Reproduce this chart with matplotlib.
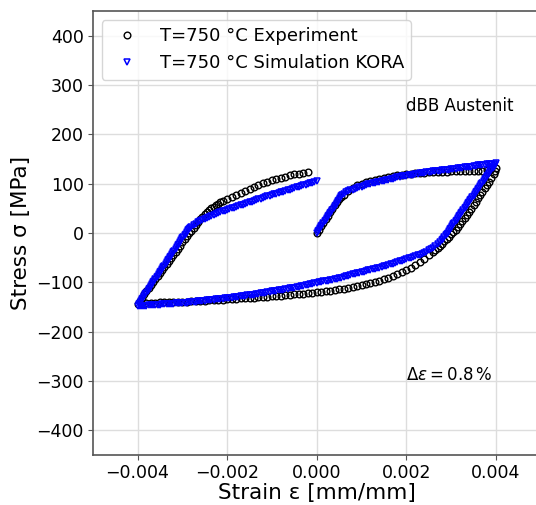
import numpy as np
import matplotlib
matplotlib.use("Agg")
import matplotlib.pyplot as plt

# strain values are given in units of 1e-4 mm/mm, stress in MPa

# experiment: initial loading, unloading, reloading
exp_strain_e4 = [
    0, 0.5, 1, 1.5, 2, 2.5, 3, 3.5, 4, 4.5, 5, 5.5, 6, 7, 8, 9, 10, 11, 12, 13,
    14, 15, 16, 17, 18, 19, 20, 21, 22, 23, 24, 25, 26, 27, 28, 29, 30, 31, 32,
    33, 34, 35, 36, 37, 38, 39, 40,
    39.8, 39.5, 39, 38.5, 38, 37.5, 37, 36.5, 36, 35.5, 35, 34.5, 34, 33.5, 33,
    32.5, 32, 31.5, 31, 30.5, 30, 29.5, 29, 28.5, 28, 27.5, 27, 26.5, 26, 25,
    24, 23, 22, 21, 20, 19, 18, 17, 16, 15, 14, 13, 12, 11, 10, 9, 8, 7, 6, 5,
    4, 3, 2, 1, 0, -1, -2, -3, -4, -5, -6, -7, -8, -9, -10, -11, -12, -13, -14,
    -15, -16, -17, -18, -19, -20, -21, -22, -23, -24, -25, -26, -27, -28, -29,
    -30, -31, -32, -33, -34, -35, -36, -37, -38, -39, -40,
    -39.5, -39, -38.5, -38, -37.5, -37, -36.5, -36, -35.5, -35, -34.5, -34,
    -33.5, -33, -32.5, -32, -31.5, -31, -30.5, -30, -29.5, -29, -28.5, -28,
    -27.5, -27, -26.5, -26, -25.5, -25, -24.5, -24, -23.5, -23, -22.5, -22,
    -21.5, -21, -20, -19, -18, -17, -16, -15, -14, -13, -12, -11, -10, -9, -8,
    -7, -6, -5, -4, -3, -2,
]
exp_stress = [
    0, 7, 14, 21, 28, 35, 42, 49, 56, 62, 68, 73, 78, 86, 92, 97, 100, 103, 106,
    108, 110, 112, 114, 115, 117, 118, 119, 120, 121, 122, 122, 123, 123, 124,
    124, 124, 125, 125, 125, 125, 125, 125, 125, 126, 127, 129, 132,
    126, 120, 112, 104, 98, 91, 84, 77, 70, 63, 56, 49, 42, 36, 30, 24, 18, 12,
    7, 2, -3, -8, -13, -17, -22, -26, -30, -34, -38, -45, -52, -59, -65, -71,
    -76, -80, -84, -88, -91, -94, -97, -99, -101, -103, -105, -107, -109, -111,
    -113, -114, -116, -117, -118, -119, -120, -121, -122, -123, -124, -124,
    -125, -126, -127, -127, -128, -129, -129, -130, -131, -131, -132, -132,
    -133, -134, -134, -135, -135, -136, -136, -137, -137, -138, -138, -139,
    -139, -139, -140, -140, -140, -140, -141, -141, -142, -143, -143,
    -137, -131, -124, -118, -112, -106, -100, -94, -87, -81, -75, -69, -63, -57,
    -50, -44, -38, -32, -26, -19, -13, -7, -1, 5, 11, 17, 22, 28, 33, 38, 42,
    46, 50, 53, 56, 59, 62, 65, 69, 73, 77, 81, 85, 89, 94, 98, 101, 104, 107,
    110, 112, 114, 117, 119, 120, 122, 124,
]

# KORA simulation
sim_strain_e4 = [
    0, 0.25, 0.5, 0.75, 1, 1.25, 1.5, 1.75, 2, 2.25, 2.5, 2.75, 3, 3.25, 3.5,
    3.75, 4, 4.25, 4.5, 4.75, 5, 5.25, 5.5, 5.75, 6, 6.5, 7, 7.5, 8, 8.5, 9,
    9.5, 10, 10.5, 11, 11.5, 12, 12.5, 13, 13.5, 14, 14.5, 15, 15.5, 16, 16.5,
    17, 17.5, 18, 18.5, 19, 19.5, 20, 20.5, 21, 21.5, 22, 22.5, 23, 23.5, 24,
    24.5, 25, 25.5, 26, 26.5, 27, 27.5, 28, 28.5, 29, 29.5, 30, 30.5, 31, 31.5,
    32, 32.5, 33, 33.5, 34, 34.5, 35, 35.5, 36, 36.5, 37, 37.5, 38, 38.5, 39,
    39.5, 40,
    39.75, 39.5, 39.25, 39, 38.75, 38.5, 38.25, 38, 37.75, 37.5, 37.25, 37,
    36.75, 36.5, 36.25, 36, 35.75, 35.5, 35.25, 35, 34.75, 34.5, 34.25, 34,
    33.75, 33.5, 33.25, 33, 32.75, 32.5, 32.25, 32, 31.75, 31.5, 31.25, 31,
    30.75, 30.5, 30.25, 30, 29.75, 29.5, 29.25, 29, 28.75, 28.5, 28.25, 28,
    27.5, 27, 26.5, 26, 25.5, 25, 24.5, 24, 23.5, 23, 22.5, 22, 21.5, 21, 20.5,
    20, 19.5, 19, 18.5, 18, 17.5, 17, 16.5, 16, 15.5, 15, 14.5, 14, 13.5, 13,
    12.5, 12, 11.5, 11, 10.5, 10, 9.5, 9, 8.5, 8, 7.5, 7, 6.5, 6, 5.5, 5, 4.5,
    4, 3.5, 3, 2.5, 2, 1.5, 1, 0.5, 0, -0.5, -1, -1.5, -2, -2.5, -3, -3.5, -4,
    -4.5, -5, -5.5, -6, -6.5, -7, -7.5, -8, -8.5, -9, -9.5, -10, -10.5, -11,
    -11.5, -12, -12.5, -13, -13.5, -14, -14.5, -15, -15.5, -16, -16.5, -17,
    -17.5, -18, -18.5, -19, -19.5, -20, -20.5, -21, -21.5, -22, -22.5, -23,
    -23.5, -24, -24.5, -25, -25.5, -26, -26.5, -27, -27.5, -28, -28.5, -29,
    -29.5, -30, -30.5, -31, -31.5, -32, -32.5, -33, -33.5, -34, -34.5, -35,
    -35.5, -36, -36.5, -37, -37.5, -38, -38.5, -39, -39.5, -40,
    -39.75, -39.5, -39.25, -39, -38.75, -38.5, -38.25, -38, -37.75, -37.5,
    -37.25, -37, -36.75, -36.5, -36.25, -36, -35.75, -35.5, -35.25, -35,
    -34.75, -34.5, -34.25, -34, -33.75, -33.5, -33.25, -33, -32.75, -32.5,
    -32.25, -32, -31.75, -31.5, -31.25, -31, -30.75, -30.5, -30.25, -30,
    -29.75, -29.5, -29.25, -29, -28.75, -28.5, -28.25, -28, -27.5, -27, -26.5,
    -26, -25.5, -25, -24.5, -24, -23.5, -23, -22.5, -22, -21.5, -21, -20.5,
    -20, -19.5, -19, -18.5, -18, -17.5, -17, -16.5, -16, -15.5, -15, -14.5,
    -14, -13.5, -13, -12.5, -12, -11.5, -11, -10.5, -10, -9.5, -9, -8.5, -8,
    -7.5, -7, -6.5, -6, -5.5, -5, -4.5, -4, -3.5, -3, -2.5, -2, -1.5, -1,
    -0.5, 0,
]
sim_stress = [
    0, 3.5, 7, 10, 13.5, 17, 20, 23.5, 27, 30.5, 34, 37, 40, 43.5, 47, 50.5, 54,
    57.5, 61, 64, 67, 70.5, 74, 77, 80,
    83, 85, 86.5, 88, 89.5, 91, 92.5, 94, 95.5, 97, 98.5, 100, 101, 102, 103,
    104, 105, 106, 107, 108, 109, 110, 111.5, 113, 114, 115, 115.5, 116, 117,
    118, 118.5, 119, 120, 121, 121.5, 122, 123, 124, 124.5, 125, 125.5, 126,
    126.5, 127, 127.5, 128, 128.5, 129, 129.5, 130, 131, 132, 132.5, 133,
    133.5, 134, 134.5, 135, 136, 137, 137.5, 138, 138.5, 139, 139.5, 140,
    140.5, 141,
    138, 134.5, 131, 128, 125, 121.5, 118, 115, 112, 108.5, 105, 102, 99, 95.5,
    92, 89, 86, 82.5, 79, 76, 73, 69.5, 66, 63, 60, 56.5, 53, 50, 47, 43.5, 40,
    37, 34, 30.5, 27, 24, 21, 17.5, 14, 11, 8, 4.5, 1, -2, -5, -8.5, -11.5,
    -14, -19, -23, -27, -30, -33, -35, -37.5, -40, -42, -44, -45.5, -47, -48.5,
    -50, -51.5, -53, -54.5, -56, -57.5, -59, -60.5, -62, -63.5, -65, -66,
    -67, -68.5, -70, -71, -72, -73.5, -75, -76, -77, -78.5, -80, -81, -82,
    -83, -84, -85.5, -87, -88, -89, -90.5, -92, -93, -94, -95, -96, -96.5,
    -97, -98, -99, -100, -101, -102, -103, -104, -105, -106, -107, -108, -109,
    -110, -111, -111.5, -112, -113, -114, -115, -116, -116.5, -117, -117.5,
    -118, -119, -120, -121, -122, -122.5, -123, -124, -125, -125.5, -126,
    -126.5, -127, -127.5, -128, -129, -130, -130.5, -131, -131.5, -132, -132.5,
    -133, -133.5, -134, -134.5, -135, -135.5, -136, -136.5, -137, -137.5,
    -138, -138.5, -139, -139.5, -140, -140.5, -141, -141, -141, -141.5, -142,
    -142.5, -143, -143.5, -144, -144, -144, -144.5, -145, -145.5, -146, -146,
    -146, -146.5, -147, -147.5, -148, -148, -148,
    -144.5, -141, -137.5, -134, -131, -128, -124.5, -121, -117.5, -114, -110.5,
    -107, -103.5, -100, -96.5, -93, -90, -87, -83.5, -80, -76.5, -73, -69.5,
    -66, -62.5, -59, -55.5, -52, -49, -46, -42.5, -39, -35.5, -32, -28.5, -25,
    -21.5, -18, -14.5, -11, -8, -5, -1.5, 2, 5.5, 9, 11, 13, 16, 19, 21.5, 24,
    26.5, 29, 31, 33, 35, 37, 39, 41, 42.5, 44, 45.5, 47, 48.5, 50, 51.5, 53,
    54.5, 56, 57.5, 59, 60.5, 62, 63.5, 65, 66.5, 68, 69.5, 71, 72.5, 74, 75.5,
    77, 78.5, 80, 81.5, 83, 84, 85, 86.5, 88, 89.5, 91, 92.5, 94, 95.5, 97, 98,
    99, 100.5, 102, 103.5, 105,
]

x_ticks = [-0.004, -0.002, 0.000, 0.002, 0.004]
y_ticks = [-400, -300, -200, -100, 0, 100, 200, 300, 400]

exp_strain = np.array(exp_strain_e4) * 1e-4
sim_strain = np.array(sim_strain_e4) * 1e-4

fig = plt.figure(figsize=(5.36, 5.05), dpi=100)
ax = fig.add_axes([92.7 / 536, 50 / 505, 448 / 536, 444 / 505])

ax.plot(exp_strain, exp_stress, linestyle="none", marker="o", markersize=4.8,
        markerfacecolor="none", markeredgecolor="black", markeredgewidth=1,
        label="T=750 °C Experiment", zorder=3)
ax.plot(sim_strain, sim_stress, linestyle="none", marker="v", markersize=5,
        markerfacecolor="none", markeredgecolor="blue", markeredgewidth=1.1,
        label="T=750 °C Simulation KORA", zorder=4)

ax.set_xlim(-0.005, 0.005)
ax.set_ylim(-450, 450)
ax.set_xticks(x_ticks)
ax.set_xticklabels([f"{v:.3f}".replace("-", "\u2212") for v in x_ticks])
ax.set_yticks(y_ticks)
ax.tick_params(labelsize=12.5, color="#555555", length=3.5, pad=3)
ax.grid(True, color="#dddddd", linewidth=1)
ax.set_axisbelow(True)
for spine in ax.spines.values():
    spine.set_color("#555555")
    spine.set_linewidth(1.2)

ax.set_xlabel("Strain ε [mm/mm]", fontsize=15.5, labelpad=1)
ax.set_ylabel("Stress σ [MPa]", fontsize=15.5)

ax.text(0.002, 247, "dBB Austenit", fontsize=12)
ax.text(0.002, -297, r"$\Delta\varepsilon = 0.8\,\%$", fontsize=12)

ax.legend(loc="upper left", fontsize=13)

fig.savefig("out.png", dpi=100)
